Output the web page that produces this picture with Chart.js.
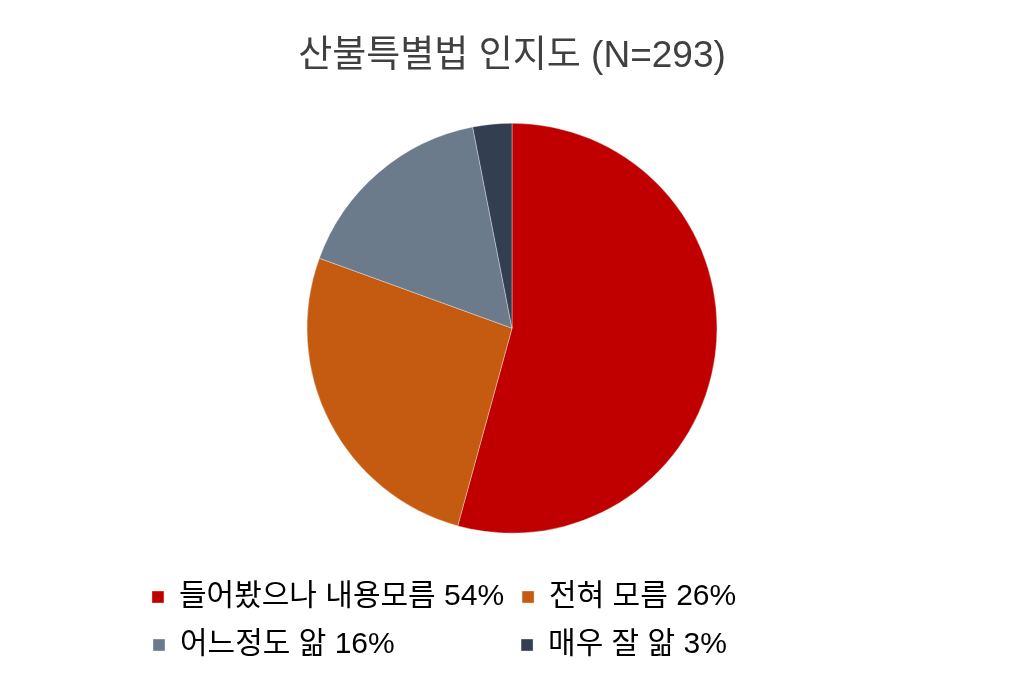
<!DOCTYPE html>
<html>
<head>
<meta charset="utf-8">
<script src="https://cdn.jsdelivr.net/npm/chart.js@4"></script>
<style>
  html, body { margin: 0; padding: 0; background: #fff; }
  #wrap { width: 1024px; height: 683px; position: relative; }
</style>
</head>
<body>
<div id="wrap"><canvas id="myChart"></canvas></div>
<script>
// survey: N=293
var categories = ['들어봤으나 내용모름', '전혀 모름', '어느정도 앎', '매우 잘 앎'];
var counts = [159, 77, 48, 9];
var colors = ['#C00000', '#C55A11', '#6B7B8C', '#333F50'];

var FONT = "'Liberation Sans', Arial, 'Noto Sans CJK KR', sans-serif";
var legendSize = 30;

var total = counts.reduce(function (a, b) { return a + b; }, 0);
var labels = categories.map(function (c, i) {
    return c + ' ' + Math.round(counts[i] / total * 100) + '%';
});

// pad labels to one column width so the legend wraps into 2 aligned columns
var mctx = document.createElement('canvas').getContext('2d');
mctx.font = legendSize + 'px ' + FONT;
function w(t) { return mctx.measureText(t).width; }
function padTo(t, target) {
    while (w(t + ' ') <= target) t += ' ';
    while (w(t + '\u200A') <= target) t += '\u200A';
    return t;
}
var colW = Math.max.apply(null, labels.map(w));
var legendLabels = labels.map(function (t) { return padTo(t, colW); });

var ctx = document.getElementById('myChart');

var myChart = new Chart(ctx, {
    type: 'pie',
    data: {
        labels: legendLabels,
        datasets: [{
            data: counts,
            backgroundColor: colors,
            borderColor: 'rgba(255,255,255,0.35)',
            borderWidth: 1,
            radius: 205
        }]
    },
    options: {
        responsive: true,
        maintainAspectRatio: false,
        animation: false,
        layout: { padding: { top: 0, bottom: 13, left: 0, right: 0 } },
        plugins: {
            title: {
                display: true,
                text: '산불특별법 인지도 (N=293)',
                color: '#404040',
                font: { family: FONT, size: 37, weight: 'normal' },
                padding: { top: 35, bottom: 13 }
            },
            legend: {
                position: 'bottom',
                labels: {
                    color: '#000',
                    font: { family: FONT, size: legendSize },
                    boxWidth: 12,
                    boxHeight: 12,
                    padding: 18
                }
            },
            tooltip: { enabled: false }
        }
    }
});
</script>
</body>
</html>
